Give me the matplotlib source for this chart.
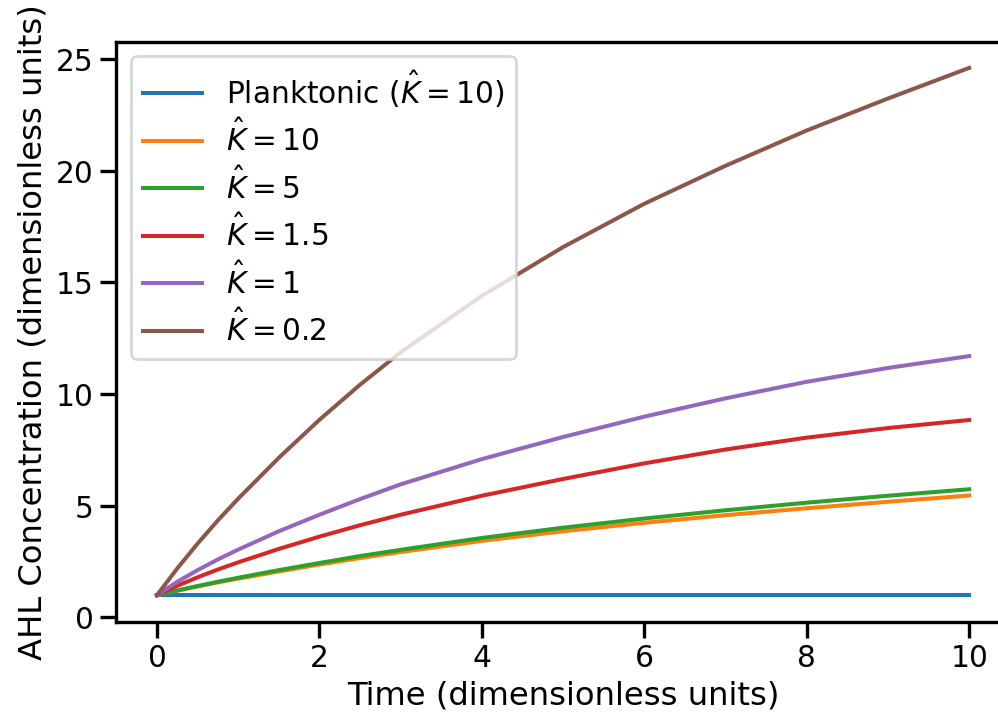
import matplotlib
matplotlib.use("Agg")
import matplotlib.pyplot as plt
import seaborn as sns

# values
t = [0, 0.25, 0.5, 0.75, 1, 1.5, 2, 2.5, 3, 4, 5, 6, 7, 8, 9, 10]
planktonic = [1, 1, 1, 1, 1, 1, 1, 1, 1, 1, 1, 1, 1, 1, 1, 1]
k10 = [1, 1.2, 1.39, 1.57, 1.74, 2.06, 2.37, 2.66, 2.93, 3.43, 3.86, 4.24, 4.58, 4.89, 5.18, 5.46]
k5 = [1, 1.21, 1.41, 1.6, 1.78, 2.12, 2.44, 2.75, 3.03, 3.56, 4.02, 4.43, 4.80, 5.14, 5.45, 5.74]
k1_5 = [1, 1.42, 1.8, 2.15, 2.47, 3.07, 3.62, 4.13, 4.6, 5.45, 6.2, 6.9, 7.52, 8.05, 8.48, 8.84]
k1 = [1, 1.6, 2.12, 2.6, 3.04, 3.86, 4.6, 5.3, 5.96, 7.09, 8.08, 8.99, 9.81, 10.55, 11.17, 11.70]
k0_2 = [1, 2.2, 3.31, 4.35, 5.32, 7.15, 8.85, 10.42, 11.87, 14.4, 16.58, 18.52, 20.22, 21.8, 23.23, 24.6]

series = [planktonic, k10, k5, k1_5, k1, k0_2]
labels = [r'Planktonic ($\hat{K}=10$)', r'$\hat{K}=10$', r'$\hat{K}=5$',
          r'$\hat{K}=1.5$', r'$\hat{K}=1$', r'$\hat{K}=0.2$']

sns.set_context('talk')

fig = plt.figure(figsize=(998.4 / 129, 719.4 / 129), dpi=129)
ax = fig.add_axes([0.1166, 0.1355, 0.8948, 0.8062])

for y, lab in zip(series, labels):
    ax.plot(t, y, label=lab)

ax.set_xlim(-0.5, 10.5)
ax.set_xlabel('Time (dimensionless units)')
ax.set_ylabel('AHL Concentration (dimensionless units)')
ax.legend(loc='upper left', labelspacing=0.35)

fig.savefig('out.png', dpi=129)
